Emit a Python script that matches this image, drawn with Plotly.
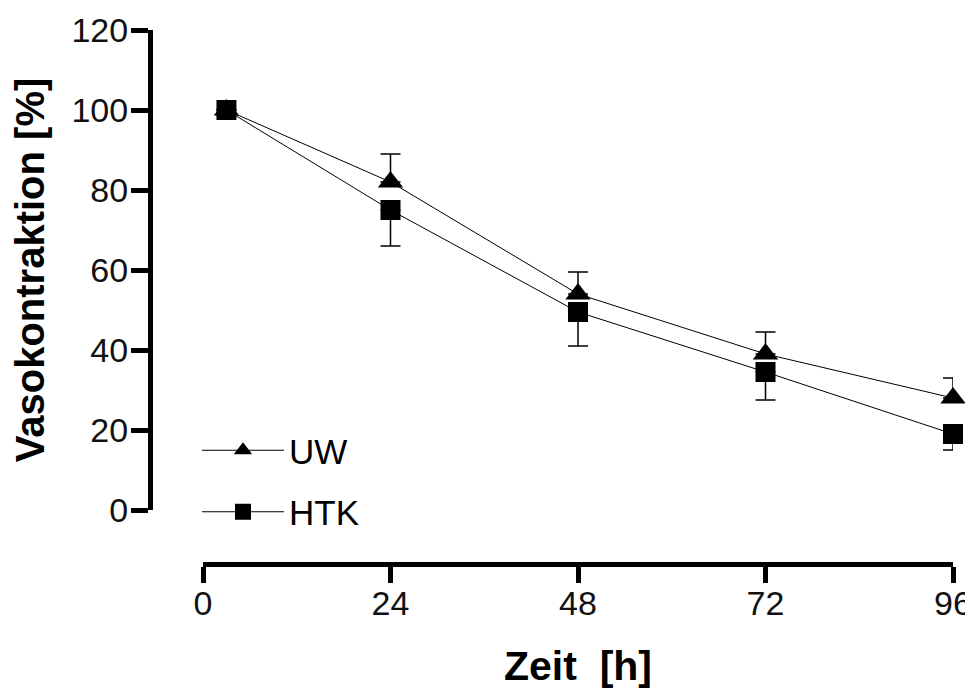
import plotly.graph_objects as go

# Data
zeit = [3, 24, 48, 72, 96]
uw_mean = [100, 82, 54, 39, 28]
uw_err = [0, 7, 5.5, 5.5, 5]
htk_mean = [100, 75, 49.5, 34.5, 19]
htk_err = [0, 9, 8.5, 7, 4]

x_ticks = [0, 24, 48, 72, 96]
y_ticks = [0, 20, 40, 60, 80, 100, 120]

# page body has an 8px margin, so the figure is 8px smaller in each direction
W, H = 965, 684
FONT = "Liberation Sans"

fig = go.Figure()
fig.add_trace(go.Scatter(
    x=zeit, y=uw_mean, name="UW", mode="lines+markers",
    line=dict(color="black", width=1),
    marker=dict(symbol="triangle-up", size=22, color="black"),
    error_y=dict(type="data", symmetric=False, array=uw_err,
                 arrayminus=[0] * len(uw_err), color="black",
                 thickness=1.5, width=10),
    cliponaxis=False, legendgroup="uw",
))
fig.add_trace(go.Scatter(
    x=zeit, y=htk_mean, name="HTK", mode="lines+markers",
    line=dict(color="black", width=1),
    marker=dict(symbol="square", size=20, color="black"),
    error_y=dict(type="data", symmetric=False, array=[0] * len(htk_err),
                 arrayminus=htk_err, color="black",
                 thickness=1.5, width=10),
    cliponaxis=False, legendgroup="htk",
))

fig.update_layout(
    width=W, height=H,
    template="none",
    paper_bgcolor="white", plot_bgcolor="white",
    margin=dict(l=0, r=0, t=0, b=0),
    font=dict(family=FONT, color="black"),
    xaxis=dict(
        domain=[195 / W, 945 / W], range=[0, 96],
        anchor="free", position=(H - 556) / H,
        tickvals=x_ticks, ticktext=[str(v) for v in x_ticks],
        ticks="outside", ticklen=16, tickwidth=5, tickcolor="black",
        showline=True, linewidth=5, linecolor="black",
        showgrid=False, zeroline=False, automargin=False,
        ticklabelstandoff=-9,
        tickfont=dict(family=FONT, size=34, color="#111"),
        title=dict(text="Zeit  [h]", standoff=30,
                   font=dict(family=FONT, size=41, weight="bold")),
    ),
    yaxis=dict(
        domain=[(H - 502) / H, (H - 22) / H], range=[0, 120],
        anchor="free", position=142 / W,
        tickvals=y_ticks, ticktext=[str(v) for v in y_ticks],
        ticks="outside", ticklen=17, tickwidth=5, tickcolor="black",
        showline=True, linewidth=5, linecolor="black",
        showgrid=False, zeroline=False, automargin=False,
        ticklabelstandoff=-4,
        tickfont=dict(family=FONT, size=34, color="#111"),
        title=dict(text="Vasokontraktion [%]", standoff=20,
                   font=dict(family=FONT, size=40, weight="bold")),
    ),
    showlegend=True,
    legend=dict(
        x=189 / W, y=(H - 413) / H, xanchor="left", yanchor="top",
        bgcolor="rgba(0,0,0,0)", borderwidth=0,
        font=dict(family=FONT, size=35, color="black"),
        itemwidth=82, tracegroupgap=13, traceorder="grouped",
    ),
)

fig.write_html("out.html")
